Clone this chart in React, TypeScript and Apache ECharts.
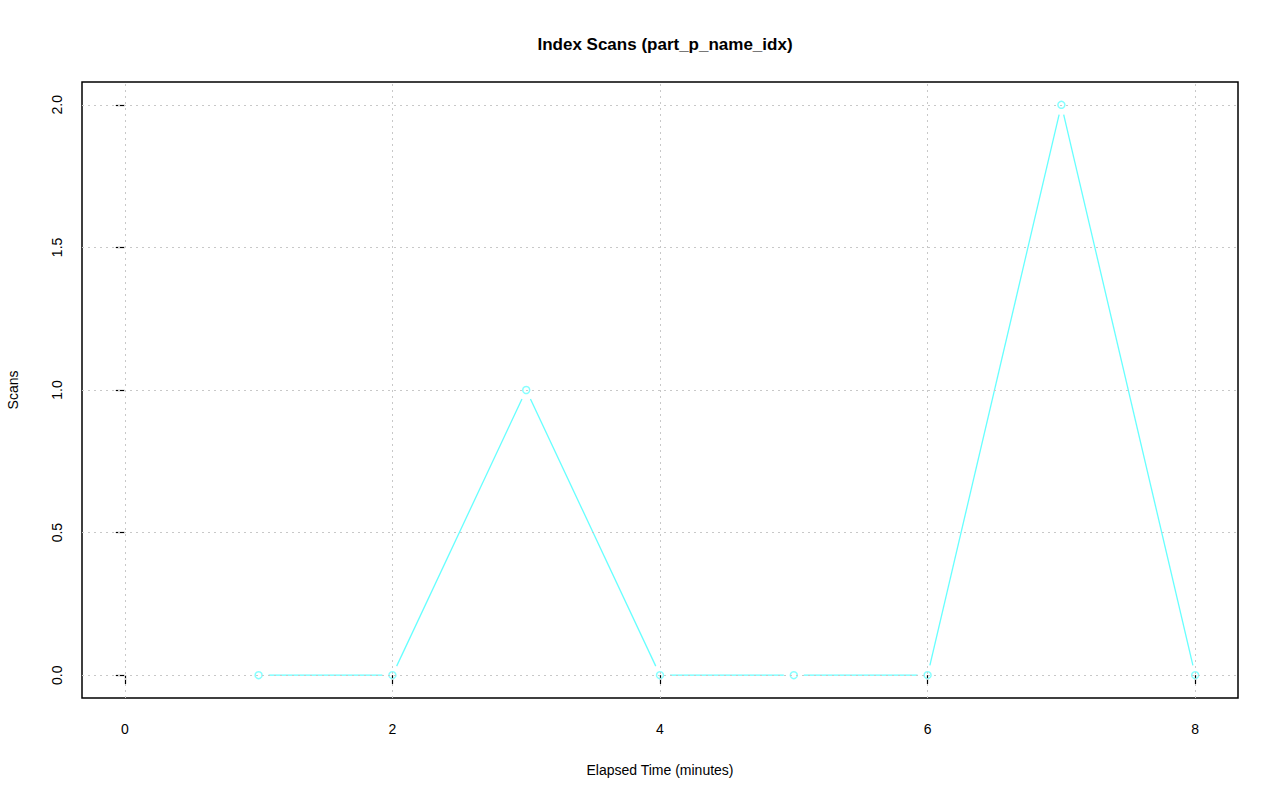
import React, { useEffect, useRef } from "react";
import * as echarts from "echarts";

const minutes = [1, 2, 3, 4, 5, 6, 7, 8];
const scans = [0, 0, 1, 0, 0, 0, 2, 0];
const xTicks = [0, 2, 4, 6, 8];
const yTicks = [0, 0.5, 1.0, 1.5, 2.0];
const xRange = [0, 8];
const yRange = [0, 2];

const FONT = "'Liberation Sans', Arial, Helvetica, sans-serif";
const LINE_COLOR = "#66ffff";
const GRID_COLOR = "#c8c8c8";

export default function App() {
  const ref = useRef<HTMLDivElement>(null);
  useEffect(() => {
    if (!ref.current) return;
    const chart = echarts.init(ref.current, null, { renderer: "svg" });
    const xPad = (xRange[1] - xRange[0]) * 0.04;
    const yPad = (yRange[1] - yRange[0]) * 0.04;
    const pts = minutes.map((m, i) => [m, scans[i]]);
    const segs = pts.slice(0, -1).map((p, i) => [p[0], p[1], pts[i + 1][0], pts[i + 1][1]]);
    const gridLineStyle = { color: GRID_COLOR, type: [2, 4] as any, width: 1 };

    chart.setOption({
      animation: false,
      backgroundColor: "#ffffff",
      grid: {
        left: 82,
        top: 82,
        right: 42,
        bottom: 103,
        show: true,
        borderColor: "#000000",
        borderWidth: 1.5,
        backgroundColor: "transparent",
      },
      title: {
        text: "Index Scans (part_p_name_idx)",
        left: 660,
        textAlign: "center",
        top: 31,
        textStyle: { fontFamily: FONT, fontSize: 17, fontWeight: "bold", color: "#000" },
      },
      graphic: [
        {
          type: "text",
          x: 660,
          y: 770,
          style: {
            text: "Elapsed Time (minutes)",
            font: `14px ${FONT}`,
            fill: "#000",
            textAlign: "center",
            textVerticalAlign: "middle",
          },
        },
        {
          type: "text",
          x: 13,
          y: 390,
          rotation: Math.PI / 2,
          style: {
            text: "Scans",
            font: `14px ${FONT}`,
            fill: "#000",
            textAlign: "center",
            textVerticalAlign: "middle",
          },
        },
      ],
      xAxis: {
        type: "value",
        min: xRange[0] - xPad,
        max: xRange[1] + xPad,
        axisLine: { show: false },
        splitLine: { show: false },
        axisTick: {
          show: true,
          customValues: xTicks,
          length: 9,
          lineStyle: { color: "#000", width: 1.2 },
        },
        axisLabel: {
          customValues: xTicks,
          margin: 24,
          fontFamily: FONT,
          fontSize: 14,
          color: "#000",
          formatter: (v: number) => String(v),
        },
      },
      yAxis: {
        type: "value",
        min: yRange[0] - yPad,
        max: yRange[1] + yPad,
        axisLine: { show: false },
        splitLine: { show: false },
        axisTick: {
          show: true,
          customValues: yTicks,
          length: 9,
          lineStyle: { color: "#000", width: 1.2 },
        },
        axisLabel: {
          customValues: yTicks,
          rotate: 90,
          margin: 18,
          fontFamily: FONT,
          fontSize: 14,
          color: "#000",
          formatter: (v: number) => v.toFixed(1),
        },
      },
      series: [
        {
          type: "line",
          data: [],
          silent: true,
          markLine: {
            silent: true,
            symbol: "none",
            label: { show: false },
            lineStyle: gridLineStyle,
            data: [
              ...xTicks.map((v) => ({ xAxis: v })),
              ...yTicks.map((v) => ({ yAxis: v })),
            ],
          },
        },
        {
          type: "custom",
          silent: true,
          data: segs,
          encode: { x: [0, 2], y: [1, 3] },
          renderItem: (params: any, api: any) => {
            const p1 = api.coord([api.value(0), api.value(1)]);
            const p2 = api.coord([api.value(2), api.value(3)]);
            const dx = p2[0] - p1[0];
            const dy = p2[1] - p1[1];
            const len = Math.sqrt(dx * dx + dy * dy);
            const gap = 10;
            if (len <= 2 * gap) return null;
            const ux = dx / len;
            const uy = dy / len;
            return {
              type: "line",
              shape: {
                x1: p1[0] + ux * gap,
                y1: p1[1] + uy * gap,
                x2: p2[0] - ux * gap,
                y2: p2[1] - uy * gap,
              },
              style: { stroke: LINE_COLOR, lineWidth: 1.3 },
            };
          },
        },
        {
          type: "scatter",
          silent: true,
          data: pts,
          symbol: "circle",
          symbolSize: 7,
          itemStyle: { color: "transparent", borderColor: LINE_COLOR, borderWidth: 1.5 },
        },
      ],
    });
    return () => chart.dispose();
  }, []);

  return (
    <div
      ref={ref}
      style={{ position: "fixed", left: 0, top: 0, width: 1280, height: 801, background: "#fff" }}
    />
  );
}
